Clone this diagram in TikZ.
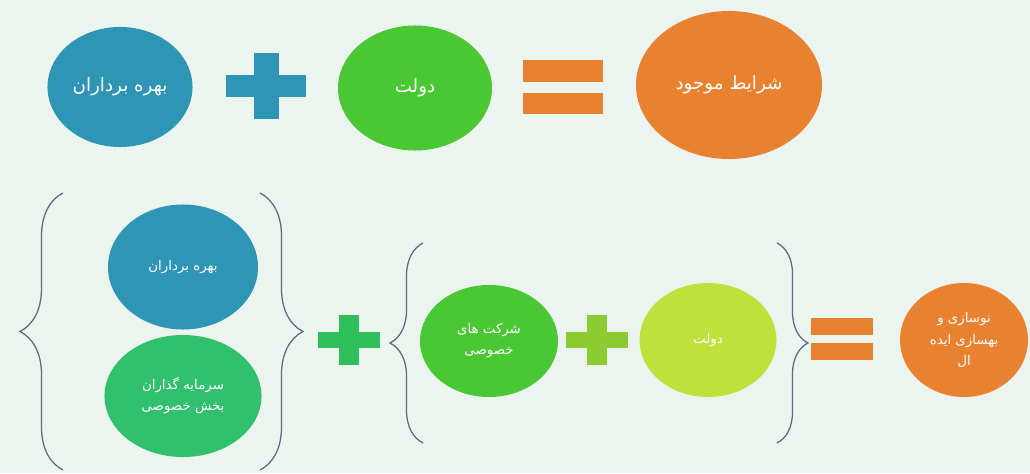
\documentclass[tikz,border=0pt]{standalone}
\usepackage{fontspec}
\newfontfamily\persianfont[Script=Arabic]{DejaVu Sans}
\TeXXeTstate=1
\usetikzlibrary{positioning, shapes.geometric, decorations.pathreplacing}

\definecolor{bgmint}{RGB}{235,244,238}
\definecolor{tealblue}{RGB}{46,150,180}
\definecolor{leafgreen}{RGB}{74,200,52}
\definecolor{pumpkin}{RGB}{232,130,48}
\definecolor{seagreen}{RGB}{48,192,110}
\definecolor{plusgreen}{RGB}{46,190,90}
\definecolor{pluslime}{RGB}{140,204,48}
\definecolor{yellowgreen}{RGB}{192,224,60}
\definecolor{bracegray}{RGB}{90,108,132}

\newcommand{\fa}[1]{\beginR #1\endR}

\begin{document}
\begin{tikzpicture}[x=0.025cm, y=-0.025cm,
    bubble/.style={ellipse, inner sep=0pt, text=white, align=center,
      font=\persianfont\fontsize{13}{16}\selectfont},
    smallbubble/.style={bubble, font=\persianfont\fontsize{9.5}{15}\selectfont},
    bracket/.style={decorate, decoration={brace, amplitude=#1, aspect=0.5},
      draw=bracegray, line width=0.9pt},
    plussign/.pic={
      \fill (-40,-10.5) rectangle (40,10.5);
      \fill (-12.5,-33) rectangle (12.5,33);},
    equalsign/.pic={
      \fill (-40,-27) rectangle (40,-5.5);
      \fill (-40,5.5) rectangle (40,27);}]

  % background
  \fill[bgmint] (0,0) rectangle (1030,473);

  % top row
  \node[bubble, fill=tealblue, minimum width=3.625cm, minimum height=3cm]
    (bahre) at (120,87) {\fa{بهره برداران}};
  \pic[fill=tealblue] (plusA) at (266,86) {plussign};
  \node[bubble, fill=leafgreen, minimum width=3.85cm, minimum height=3.125cm]
    (dolat) at (415,88) {\fa{دولت}};
  \pic[fill=pumpkin] (eqA) at (563,87) {equalsign};
  \node[bubble, fill=pumpkin, minimum width=4.65cm, minimum height=3.7cm]
    (sharayet) at (729,85) {\fa{شرایط موجود}};

  % bottom row
  \node[smallbubble, fill=tealblue, minimum width=3.75cm, minimum height=3.125cm]
    (bahre2) at (183,267) {\fa{بهره برداران}};
  \node[smallbubble, fill=seagreen, minimum width=3.925cm, minimum height=3.05cm]
    (sarmaye) at (183,396) {\fa{سرمایه گذاران}\\\fa{بخش خصوصی}};
  \coordinate (braceAtop) at (63,193);
  \coordinate (braceAbot) at (63,470);
  \coordinate (braceBtop) at (260,193);
  \coordinate (braceBbot) at (260,470);
  \draw[bracket=1.075cm] (braceAbot) -- (braceAtop);
  \draw[bracket=1.075cm] (braceBtop) -- (braceBbot);

  \pic[fill=plusgreen, scale=0.77] (plusB) at (349,340) {plussign};

  \node[smallbubble, fill=leafgreen, minimum width=3.45cm, minimum height=2.8cm]
    (sherkat) at (489,341) {\fa{شرکت های}\\\fa{خصوصی}};
  \pic[fill=pluslime, scale=0.77] (plusC) at (597,340) {plussign};
  \node[smallbubble, fill=yellowgreen, minimum width=3.425cm, minimum height=2.85cm]
    (dolat2) at (708,340) {\fa{دولت}};
  \coordinate (braceCtop) at (423,243);
  \coordinate (braceCbot) at (423,443);
  \coordinate (braceDtop) at (777,243);
  \coordinate (braceDbot) at (777,443);
  \draw[bracket=0.825cm] (braceCbot) -- (braceCtop);
  \draw[bracket=0.775cm] (braceDtop) -- (braceDbot);

  \pic[fill=pumpkin, scale=0.77] (eqB) at (842,339) {equalsign};
  \node[smallbubble, fill=pumpkin, minimum width=3.2cm, minimum height=2.85cm]
    (nosazi) at (964,340) {\fa{نوسازی و}\\\fa{بهسازی ایده}\\\fa{ال}};
\end{tikzpicture}
\end{document}
